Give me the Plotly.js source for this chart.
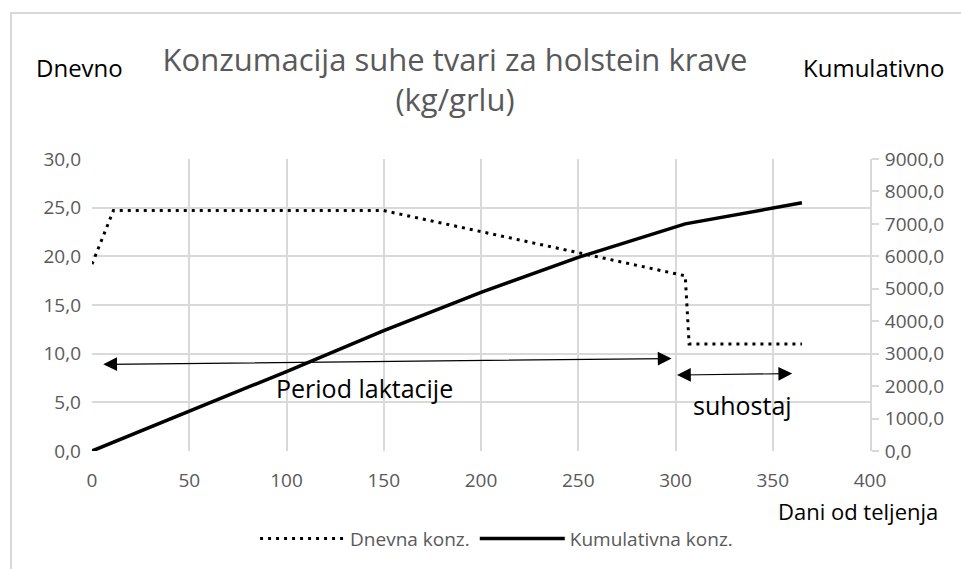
<!DOCTYPE html>
<html>
<head>
<meta charset="utf-8">
<script src="https://cdn.plot.ly/plotly-3.0.1.min.js"></script>
<style>
html,body{margin:0;padding:0;background:#fff;}
#chart{width:961px;height:569px;}
#frame{position:absolute;left:10px;top:12px;width:960px;height:570px;border-left:2px solid #d9d9d9;border-top:2px solid #d9d9d9;pointer-events:none;}
</style>
</head>
<body>
<div id="chart"></div>
<div id="frame"></div>
<script>
// Daily dry-matter intake (kg/head)
const dailyDays   = [0, 11, 150, 305, 307, 365];
const dailyValues = [19.2, 24.7, 24.7, 18.0, 11.0, 11.0];

// Cumulative intake (kg/head)
const cumDays   = [0, 50, 100, 150, 200, 250, 305, 365];
const cumValues = [0, 1220, 2450, 3710, 4890, 5970, 7000, 7650];

const seriesNames = ['Dnevna konz.', 'Kumulativna konz.'];
const xTicks = [0, 50, 100, 150, 200, 250, 300, 350, 400];

const FONT = 'Open Sans, Liberation Sans, sans-serif';
const GRID = '#d9d9d9';
const GREY = '#595959';

const traces = [
  {
    x: dailyDays, y: dailyValues, name: seriesNames[0], type: 'scatter', mode: 'lines',
    line: {color: '#000', width: 3, dash: '3px,5px'}, yaxis: 'y'
  },
  {
    x: cumDays, y: cumValues, name: seriesNames[1], type: 'scatter', mode: 'lines',
    line: {color: '#000', width: 3.5}, yaxis: 'y2'
  }
];

const layout = {
  width: 961, height: 569,
  margin: {l: 92, r: 91, t: 159, b: 116},
  paper_bgcolor: '#fff', plot_bgcolor: '#fff',
  separators: ',.',
  font: {family: FONT, color: GREY, size: 19},
  title: {
    text: 'Konzumacija suhe tvari za holstein krave<br>(kg/grlu)',
    font: {family: FONT, size: 31, color: GREY},
    x: 455/961, xanchor: 'center', xref: 'container',
    y: 1 - 71/569, yanchor: 'top', yref: 'container'
  },
  xaxis: {
    range: [0, 400], tickvals: xTicks, ticktext: xTicks.map(String),
    showgrid: true, gridcolor: GRID, gridwidth: 2,
    zeroline: false, showline: false, ticks: '',
    tickfont: {family: FONT, size: 19, color: GREY},
    ticklabelstandoff: 16, fixedrange: true
  },
  yaxis: {
    range: [0, 30], dtick: 5, tickformat: '.1f',
    showgrid: true, gridcolor: GRID, gridwidth: 2,
    zeroline: false, showline: false, ticks: '',
    tickfont: {family: FONT, size: 19, color: GREY},
    ticklabelstandoff: 10, fixedrange: true
  },
  yaxis2: {
    overlaying: 'y', side: 'right', anchor: 'x',
    range: [0, 9000], dtick: 1000, tickformat: '.1f',
    showgrid: false, zeroline: false,
    showline: true, linecolor: GRID, linewidth: 2,
    ticks: 'outside', ticklen: 7, tickcolor: GRID, tickwidth: 2,
    tickfont: {family: FONT, size: 19, color: GREY},
    ticklabelstandoff: 2, fixedrange: true
  },
  showlegend: true,
  legend: {
    orientation: 'h', x: 0.52, xanchor: 'center', y: -0.30, yanchor: 'middle',
    font: {family: FONT, size: 19, color: GREY},
    bgcolor: 'rgba(0,0,0,0)', itemwidth: 85, tracegroupgap: 0
  },
  annotations: [
    {xref: 'paper', yref: 'paper', x: (34-92)/778, y: 1 + (159-67)/294, xanchor: 'left', yanchor: 'middle',
     text: 'Dnevno', showarrow: false, font: {family: FONT, size: 24, color: '#000'}},
    {xref: 'paper', yref: 'paper', x: (947-92)/778, y: 1 + (159-67)/294, xanchor: 'right', yanchor: 'middle',
     text: 'Kumulativno', showarrow: false, font: {family: FONT, size: 24, color: '#000'}},
    {xref: 'paper', yref: 'paper', x: (940-92)/778, y: -(513-453)/294, xanchor: 'right', yanchor: 'middle',
     text: 'Dani od teljenja', showarrow: false, font: {family: FONT, size: 22, color: '#000'}},
    // lactation period double arrow
    {xref: 'x', yref: 'y', axref: 'x', ayref: 'y', x: 298, y: 9.5, ax: 5, ay: 8.9,
     showarrow: true, arrowhead: 2, startarrowhead: 2, arrowside: 'end+start',
     arrowwidth: 1.2, arrowsize: 2.3, startarrowsize: 2.3, arrowcolor: '#000', text: ''},
    {xref: 'x', yref: 'y', x: 140, y: 6.5, text: 'Period laktacije', showarrow: false,
     font: {family: FONT, size: 25, color: '#000'}},
    // dry period double arrow
    {xref: 'x', yref: 'y', axref: 'x', ayref: 'y', x: 360, y: 7.95, ax: 300, ay: 7.8,
     showarrow: true, arrowhead: 2, startarrowhead: 2, arrowside: 'end+start',
     arrowwidth: 1.2, arrowsize: 2.3, startarrowsize: 2.3, arrowcolor: '#000', text: ''},
    {xref: 'x', yref: 'y', x: 334.5, y: 4.7, text: 'suhostaj', showarrow: false,
     font: {family: FONT, size: 25, color: '#000'}}
  ]
};

Plotly.newPlot('chart', traces, layout, {displayModeBar: false, staticPlot: true});
</script>
</body>
</html>
